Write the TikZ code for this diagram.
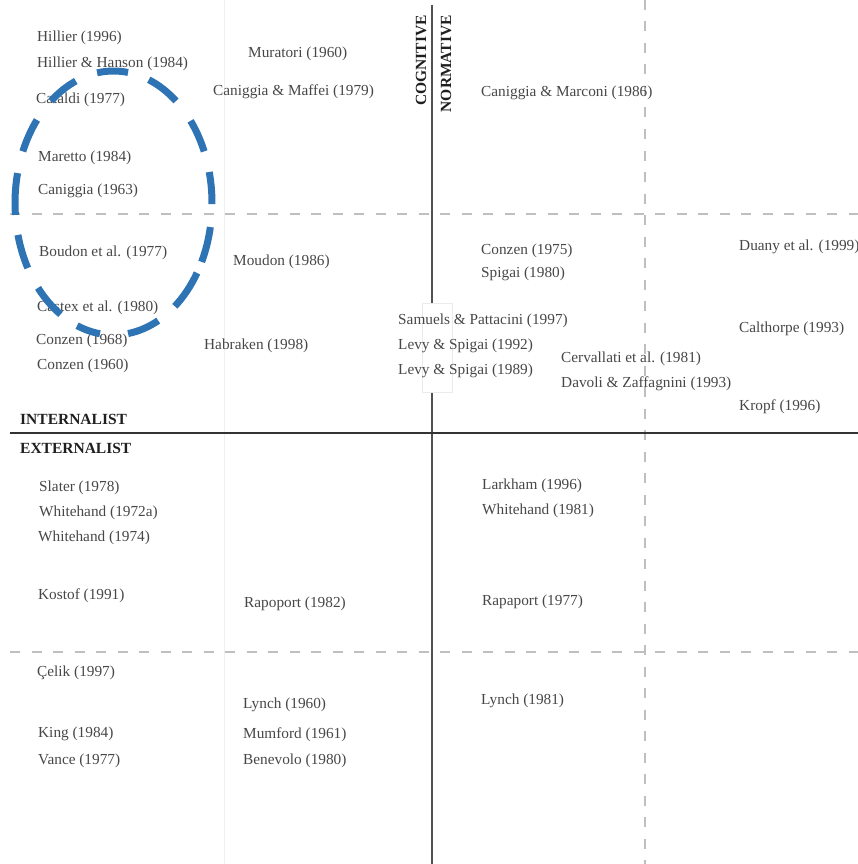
\documentclass[tikz,border=0pt]{standalone}
\usepackage{fontspec}
\setmainfont{Liberation Serif}
\begin{document}
\begin{tikzpicture}[x=1pt,y=-1pt,
  ref/.style={anchor=west,inner sep=0pt,text height=12pt,text depth=1pt,
    font=\fontsize{15.3}{17}\selectfont,text=black!72},
  axislbl/.style={inner sep=0pt,text height=10pt,text depth=0pt,
    font=\fontsize{15.5}{17}\selectfont\bfseries,text=black!88},
  guide/.style={draw=black!25,line width=1.2pt,dash pattern=on 10pt off 11.5pt},
  axis/.style={line width=1.3pt},
  cluster/.style={draw=clusterblue,line width=7pt,line cap=butt}]
\useasboundingbox (0,0) rectangle (858,864);
\definecolor{clusterblue}{HTML}{2E74B5}

% faint column rule
\draw[black!6,line width=1pt] (224,0) -- (224,864);

% dashed guide lines
\coordinate (gl1) at (10,214);  \coordinate (gr1) at (858,214);
\coordinate (gl2) at (10,652);  \coordinate (gr2) at (858,652);
\coordinate (gt)  at (645,0);   \coordinate (gb)  at (645,864);
\draw[guide] (gl1) -- (gr1);
\draw[guide] (gl2) -- (gr2);
\draw[guide] (gt) -- (gb);

% main axes
\coordinate (vt) at (432,5);   \coordinate (vb) at (432,864);
\coordinate (hl) at (10,433);  \coordinate (hr) at (858,433);
\draw[axis,black!68] (vt) -- (vb);
\draw[axis,black!80] (hl) -- (hr);

% white panel behind the central labels
\draw[black!8,fill=white,line width=0.8pt] (422,303) rectangle (452,392);

% axis labels
\node[axislbl,anchor=west] (internal) at (20,419) {INTERNALIST};
\node[axislbl,anchor=west] (external) at (20,448) {EXTERNALIST};
\node[axislbl,rotate=90,anchor=east] (cognitive) at (421,15) {COGNITIVE};
\node[axislbl,rotate=90,anchor=east] (normative) at (446,15) {NORMATIVE};

% internalist / cognitive
\node[ref] (hil96) at (37,36) {Hillier (1996)};
\node[ref] (hilhan) at (37,62) {Hillier \& Hanson (1984)};
\node[ref] (cat77) at (36,98) {Cataldi (1977)};
\node[ref] (mar84) at (38,156) {Maretto (1984)};
\node[ref] (can63) at (38,189) {Caniggia (1963)};
\node[ref] (mur60) at (248,52) {Muratori (1960)};
\node[ref] (canmaf) at (213,90) {Caniggia \& Maffei (1979)};
\node[ref] (bou77) at (39,251) {Boudon et al. (1977)};
\node[ref] (mou86) at (233,260) {Moudon (1986)};
\node[ref] (cas80) at (37,306) {Castex et al. (1980)};
\node[ref] (con68) at (36,339) {Conzen (1968)};
\node[ref] (con60) at (37,364) {Conzen (1960)};
\node[ref] (hab98) at (204,344) {Habraken (1998)};

% internalist / normative
\node[ref] (canmarc) at (481,91) {Caniggia \& Marconi (1986)};
\node[ref] (con75) at (481,249) {Conzen (1975)};
\node[ref] (spi80) at (481,272) {Spigai (1980)};
\node[ref] (sampat) at (398,319) {Samuels \& Pattacini (1997)};
\node[ref] (levy92) at (398,344) {Levy \& Spigai (1992)};
\node[ref] (levy89) at (398,369) {Levy \& Spigai (1989)};
\node[ref] (cer81) at (561,357) {Cervallati et al. (1981)};
\node[ref] (davzaf) at (561,382) {Davoli \& Zaffagnini (1993)};
\node[ref] (dua99) at (739,245) {Duany et al. (1999)};
\node[ref] (cal93) at (739,327) {Calthorpe (1993)};
\node[ref] (kro96) at (739,405) {Kropf (1996)};

% externalist / cognitive
\node[ref] (sla78) at (39,486) {Slater (1978)};
\node[ref] (whi72) at (39,511) {Whitehand (1972a)};
\node[ref] (whi74) at (38,536) {Whitehand (1974)};
\node[ref] (kos91) at (38,594) {Kostof (1991)};
\node[ref] (rap82) at (244,602) {Rapoport (1982)};
\node[ref] (cel97) at (37,671) {Çelik (1997)};
\node[ref] (lyn60) at (243,703) {Lynch (1960)};
\node[ref] (kin84) at (38,732) {King (1984)};
\node[ref] (van77) at (38,759) {Vance (1977)};
\node[ref] (mum61) at (243,733) {Mumford (1961)};
\node[ref] (ben80) at (243,759) {Benevolo (1980)};

% externalist / normative
\node[ref] (lar96) at (482,484) {Larkham (1996)};
\node[ref] (whi81) at (482,509) {Whitehand (1981)};
\node[ref] (rap77) at (482,600) {Rapaport (1977)};
\node[ref] (lyn81) at (481,699) {Lynch (1981)};

% highlighted cluster: dashed ellipse, each dash an elliptic arc
% (angles measured with the y axis pointing down)
\coordinate (cc) at (113.5,203);
\foreach \a/\b in {-99.6/-81.5, -69/-50.6, -38.5/-23, -13.6/0.5, 10.5/26.5,
                   32/51.5, 63/81.5, 97.9/111.7, 122.5/140, 150.5/166,
                   174.8/193.1, 203/219, 230.6/247.5}
  \draw[cluster] (cc) ++(\a:98.5 and 132)
        arc[start angle=\a, end angle=\b, x radius=98.5, y radius=132];
\end{tikzpicture}
\end{document}
